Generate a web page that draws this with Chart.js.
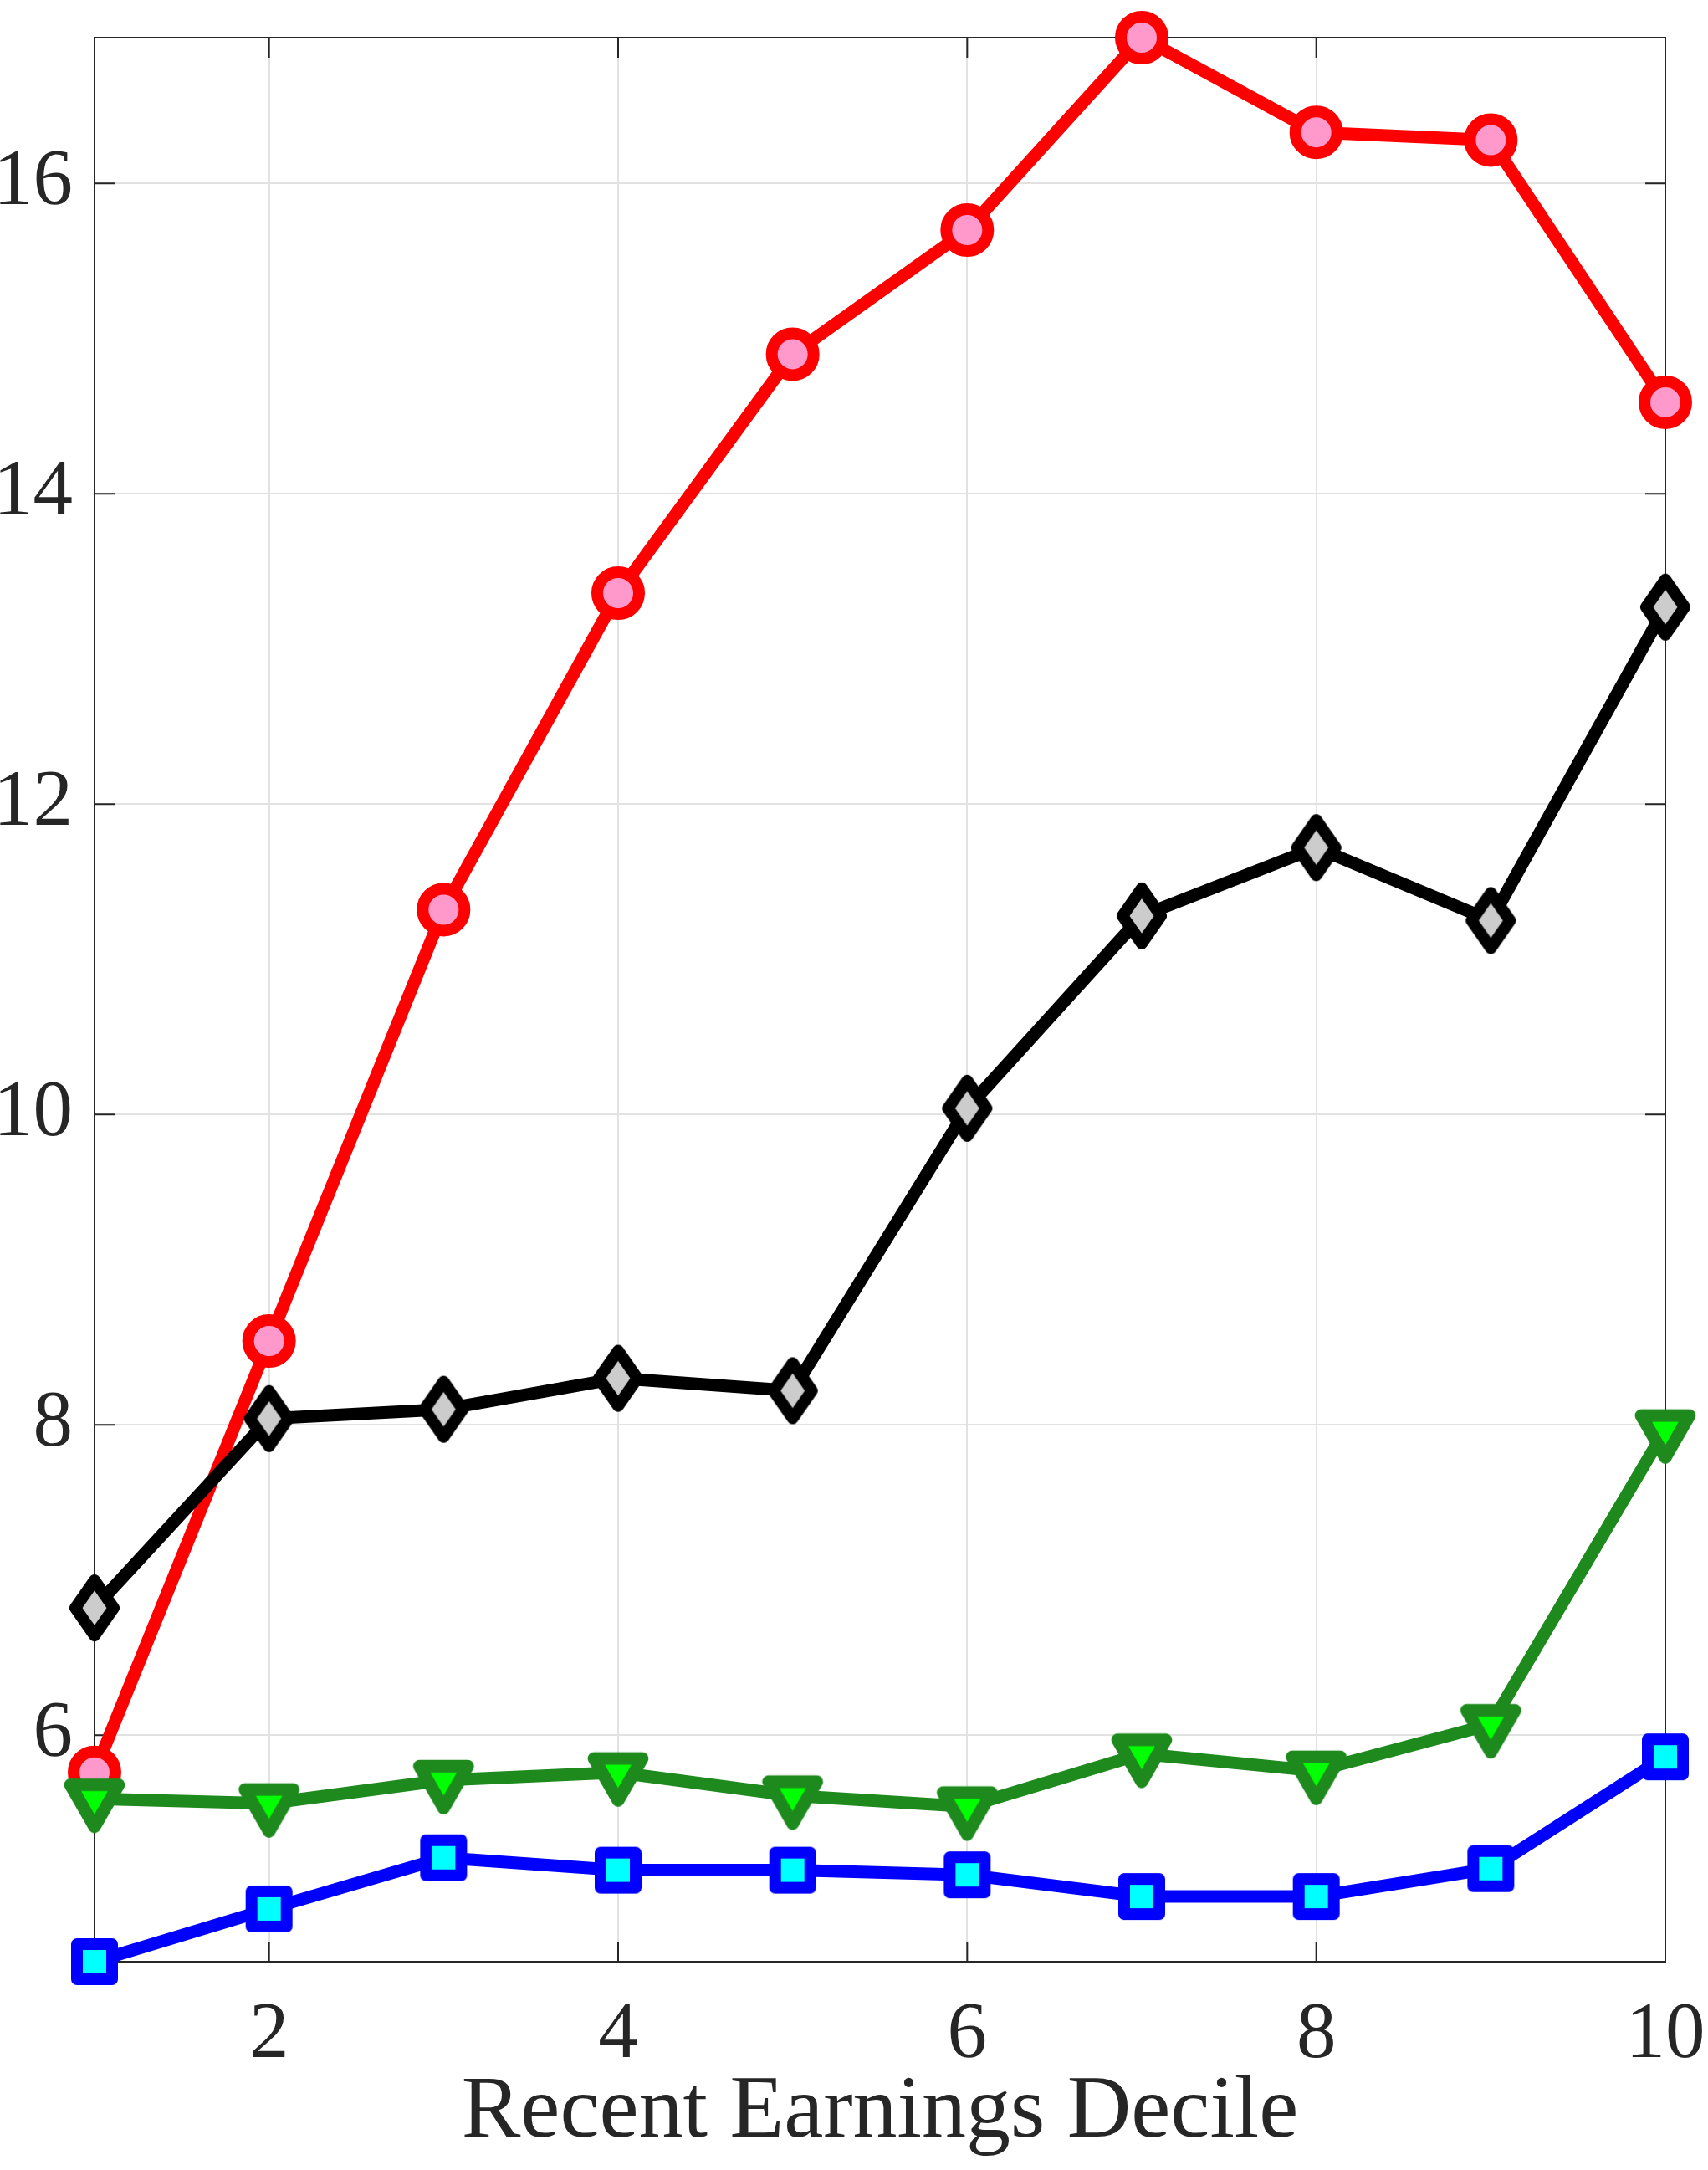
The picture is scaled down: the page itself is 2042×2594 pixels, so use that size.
<!DOCTYPE html>
<html>
<head>
<meta charset="utf-8">
<script src="https://cdn.jsdelivr.net/npm/chart.js@4"></script>
<style>
html, body { margin: 0; padding: 0; background: #fff; }
</style>
</head>
<body>
<canvas id="chart" width="2042" height="2594"></canvas>
<script>
// x軸(十分位)
const deciles = [1, 2, 3, 4, 5, 6, 7, 8, 9, 10];

// 各系列の値
const redVals   = [5.76, 8.54, 11.32, 13.36, 14.90, 15.70, 16.94, 16.33, 16.28, 14.59];
const blackVals = [6.82, 8.04, 8.10, 8.30, 8.22, 10.04, 11.28, 11.72, 11.25, 13.27];
const greenVals = [5.59, 5.56, 5.71, 5.76, 5.61, 5.54, 5.88, 5.77, 6.07, 7.97];
const blueVals  = [4.54, 4.88, 5.21, 5.13, 5.13, 5.10, 4.96, 4.96, 5.14, 5.86];

// 目盛り
const xTicks = [2, 4, 6, 8, 10];
const yTicks = [6, 8, 10, 12, 14, 16];

const axisColor = '#262626';
const fontFamily = '"Liberation Serif", "DejaVu Serif", serif';
const lineW = 15;

// マーカー画像(角を丸くしたいので自前で描く)
function makeMarker(w, h, pts, fill, stroke, lw) {
    const c = document.createElement('canvas');
    c.width = w; c.height = h;
    const g = c.getContext('2d');
    g.translate(w / 2, h / 2);
    g.beginPath();
    pts.forEach((p, i) => i ? g.lineTo(p[0], p[1]) : g.moveTo(p[0], p[1]));
    g.closePath();
    g.fillStyle = fill;
    g.fill();
    g.lineWidth = lw;
    g.lineJoin = 'round';
    g.strokeStyle = stroke;
    g.stroke();
    return c;
}

const diamond  = makeMarker(66, 84, [[0, -33], [23, 0], [0, 33], [-23, 0]], '#cccccc', '#000000', 14);
const triDown  = makeMarker(78, 84, [[-28.9, -16.7], [28.9, -16.7], [0, 33.4]], '#00ff00', '#1e8a1e', 15);
const square   = makeMarker(62, 62, [[-21, -21], [21, -21], [21, 21], [-21, 21]], '#00ffff', '#0000ff', 14);

const toXY = vals => vals.map((v, i) => ({ x: deciles[i], y: v }));

// 枠線と内向きの目盛り線
const boxPlugin = {
    id: 'box',
    beforeDatasetsDraw(chart) {
        const { ctx, chartArea: a, scales } = chart;
        const len = 24;
        ctx.save();
        ctx.strokeStyle = axisColor;
        ctx.lineWidth = 2;
        ctx.strokeRect(a.left, a.top, a.right - a.left, a.bottom - a.top);
        ctx.beginPath();
        xTicks.forEach(v => {
            const px = scales.x.getPixelForValue(v);
            ctx.moveTo(px, a.bottom); ctx.lineTo(px, a.bottom - len);
            ctx.moveTo(px, a.top); ctx.lineTo(px, a.top + len);
        });
        yTicks.forEach(v => {
            const py = scales.y.getPixelForValue(v);
            ctx.moveTo(a.left, py); ctx.lineTo(a.left + len, py);
            ctx.moveTo(a.right, py); ctx.lineTo(a.right - len, py);
        });
        ctx.stroke();
        ctx.restore();
    }
};

const allVals = redVals.concat(blackVals, greenVals, blueVals);

// 軸の余白を消す
function noPad(s) {
    s.paddingLeft = 0; s.paddingRight = 0; s.paddingTop = 0; s.paddingBottom = 0;
}

new Chart(document.getElementById('chart'), {
    type: 'line',
    data: {
        datasets: [
            {
                data: toXY(blueVals),
                borderColor: '#0000ff', borderWidth: lineW,
                pointStyle: square, pointRadius: 30
            },
            {
                data: toXY(greenVals),
                borderColor: '#1e8a1e', borderWidth: lineW,
                pointStyle: triDown, pointRadius: 30
            },
            {
                data: toXY(blackVals),
                borderColor: '#000000', borderWidth: lineW,
                pointStyle: diamond, pointRadius: 30
            },
            {
                data: toXY(redVals),
                borderColor: '#ff0000', borderWidth: lineW,
                pointStyle: 'circle', pointRadius: 25, pointBorderWidth: 14,
                pointBackgroundColor: '#ff99cc', pointBorderColor: '#ff0000'
            }
        ]
    },
    options: {
        responsive: false,
        animation: false,
        events: [],
        clip: false,
        layout: { padding: { top: 37, right: 51, left: 0, bottom: 0 } },
        plugins: { legend: { display: false }, tooltip: { enabled: false } },
        elements: { line: { borderJoinStyle: 'round', borderCapStyle: 'round', tension: 0 } },
        scales: {
            x: {
                type: 'linear',
                min: 1, max: 10,
                afterBuildTicks: s => { s.ticks = xTicks.map(v => ({ value: v })); },
                afterFit: s => { s.height = 249; noPad(s); },
                grid: { color: '#e2e2e2', lineWidth: 2, drawTicks: false },
                border: { display: false },
                ticks: { color: axisColor, padding: 32, maxRotation: 0, font: { family: fontFamily, size: 95 } },
                title: {
                    display: true, text: 'Recent Earnings Decile', color: axisColor,
                    padding: { top: 0, bottom: 4 }, font: { family: fontFamily, size: 106 }
                }
            },
            y: {
                min: Math.min(...allVals), max: Math.max(...allVals),
                afterBuildTicks: s => { s.ticks = yTicks.map(v => ({ value: v })); },
                afterFit: s => { s.width = 113; noPad(s); },
                grid: { color: '#e2e2e2', lineWidth: 2, drawTicks: false },
                border: { display: false },
                ticks: { color: axisColor, padding: 26, font: { family: fontFamily, size: 95 } }
            }
        }
    },
    plugins: [boxPlugin]
});
</script>
</body>
</html>
